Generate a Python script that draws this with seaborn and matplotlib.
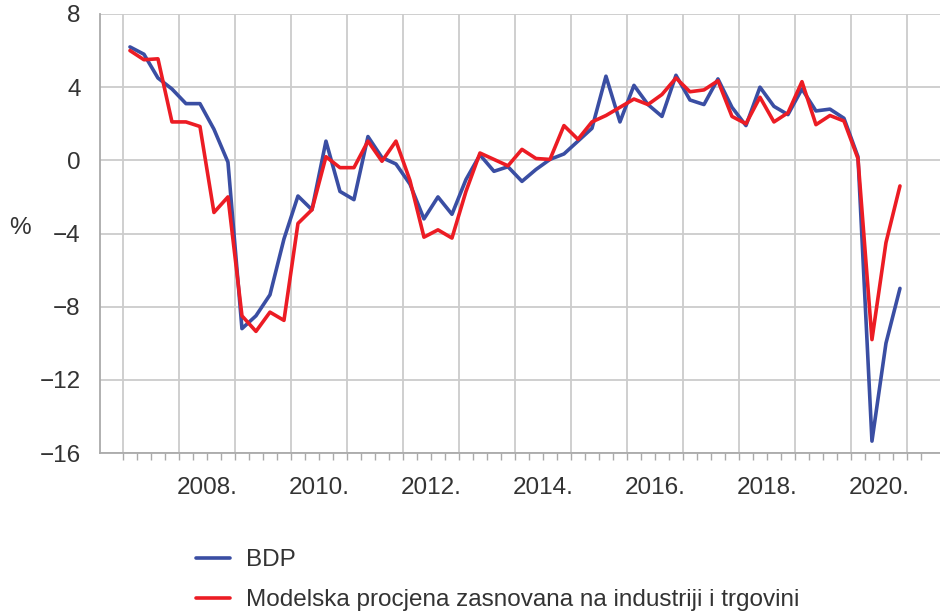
import numpy as np
import pandas as pd
import matplotlib.pyplot as plt
import matplotlib.transforms as mtransforms
import seaborn as sns

# kvartali 2007Q1 - 2020Q4
quarters = pd.period_range("2007Q1", "2020Q4", freq="Q")

bdp = [6.2, 5.8, 4.5, 3.9, 3.1, 3.1, 1.7, -0.1,
       -9.2, -8.5, -7.35, -4.3, -1.95, -2.7, 1.05, -1.7,
       -2.15, 1.3, 0.15, -0.2, -1.3, -3.2, -2.0, -2.95,
       -1.05, 0.3, -0.6, -0.35, -1.15, -0.5, 0.05, 0.35,
       1.05, 1.75, 4.6, 2.1, 4.1, 3.05, 2.4, 4.65,
       3.3, 3.05, 4.45, 2.9, 1.9, 4.0, 2.95, 2.5,
       3.9, 2.7, 2.8, 2.3, 0.2, -15.35, -10.0, -7.0]

model = [6.0, 5.5, 5.55, 2.1, 2.1, 1.85, -2.85, -2.0,
         -8.5, -9.35, -8.3, -8.75, -3.45, -2.7, 0.2, -0.4,
         -0.4, 1.05, -0.05, 1.05, -1.1, -4.2, -3.8, -4.25,
         -1.7, 0.4, 0.05, -0.3, 0.6, 0.1, 0.05, 1.9,
         1.15, 2.1, 2.45, 2.9, 3.35, 3.05, 3.6, 4.5,
         3.75, 3.85, 4.35, 2.4, 2.0, 3.45, 2.1, 2.6,
         4.3, 1.95, 2.45, 2.15, 0.1, -9.8, -4.5, -1.4]

series_names = ["BDP", "Modelska procjena zasnovana na industriji i trgovini"]
colors = ["#3a4ea3", "#ec1c24"]
label_years = [2008, 2010, 2012, 2014, 2016, 2018, 2020]
yticks = [8, 4, 0, -4, -8, -12, -16]

sns.set_style("white")
plt.rcParams["font.family"] = ["Liberation Sans", "DejaVu Sans"]
fs = 17.5

x = quarters.year + (quarters.quarter - 0.5) / 4
df = pd.DataFrame({
    "x": np.tile(x, 2),
    "value": bdp + model,
    "serija": [series_names[0]] * len(bdp) + [series_names[1]] * len(model),
})

fig = plt.figure(figsize=(9.4, 6.11), dpi=100)
ax = fig.add_axes([100 / 940, 158 / 611, 840 / 940, 439 / 611])
sns.lineplot(data=df, x="x", y="value", hue="serija",
             palette=dict(zip(series_names, colors)), lw=2.6, ax=ax)

ax.set_yticks(yticks)
ax.set_xticks(range(2007, 2022))
ax.set_xticks(np.arange(2007, 2021.5, 0.25), minor=True)
ax.set_xticklabels([])
ax.set_xlim(2006.59, 2021.59)
ax.set_ylim(-16, 8)
ax.grid(True, which="major", color="#cccccc", lw=1.3)
ax.set_axisbelow(True)
ax.set_xlabel("")
ax.set_ylabel("")
ax.tick_params(axis="x", which="both", direction="out", length=5,
               color="#aaaaaa", width=1, bottom=True)
ax.tick_params(axis="y", length=0, pad=14, labelsize=fs, labelcolor="#333333")
for s in ["top", "right"]:
    ax.spines[s].set_visible(False)
for s in ["left", "bottom"]:
    ax.spines[s].set_color("#aaaaaa")
    ax.spines[s].set_linewidth(1.3)

trans = mtransforms.blended_transform_factory(ax.transData, ax.transAxes)
for yr in label_years:
    ax.text(yr + 0.5, -0.08, f"{yr}.", transform=trans, ha="center",
            va="center", fontsize=fs, color="#333333")

fig.text(20 / 940, 1 - 228 / 611, "%", ha="center", va="center",
         fontsize=fs, color="#333333")

sns.move_legend(ax, "upper left", bbox_to_anchor=(196 / 940, 1 - 549 / 611),
                bbox_transform=fig.transFigure, frameon=False, title=None,
                fontsize=fs, borderpad=0, borderaxespad=0,
                handlelength=1.4, handletextpad=0.66, labelspacing=0.75)
for t in ax.get_legend().get_texts():
    t.set_color("#333333")

fig.savefig("out.png", dpi=100)
